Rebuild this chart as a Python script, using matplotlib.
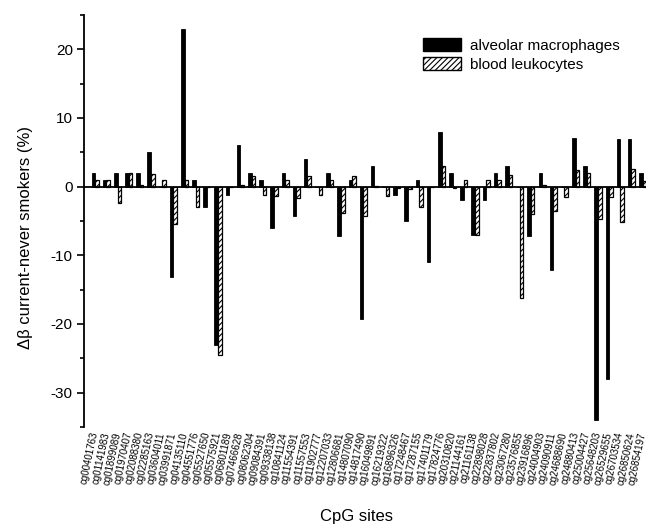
import matplotlib
matplotlib.use("Agg")
import matplotlib.pyplot as plt
import matplotlib.transforms as mtransforms
import numpy as np
from matplotlib.patches import Patch

plt.rcParams['font.family'] = ['Liberation Sans', 'DejaVu Sans']
plt.rcParams['hatch.linewidth'] = 0.8
plt.rcParams['axes.unicode_minus'] = False

sites = ["cg00401763", "cg01141983", "cg01899089", "cg01970407", "cg02088380",
         "cg02285163", "cg03604011", "cg03991871", "cg04135110", "cg04551776",
         "cg05527650", "cg05575921", "cg06801189", "cg07466628", "cg08062304",
         "cg09084391", "cg09338138", "cg10841124", "cg11554391", "cg11557553",
         "cg11902777", "cg12207033", "cg12806681", "cg14807090", "cg14817490",
         "cg16049891", "cg16219322", "cg16896326", "cg17248467", "cg17287155",
         "cg17401179", "cg17824776", "cg20310820", "cg21144161", "cg21161138",
         "cg22898028", "cg22837802", "cg23067280", "cg23576855", "cg23916896",
         "cg24004903", "cg24090911", "cg24688690", "cg24880413", "cg25004427",
         "cg25648203", "cg26529655", "cg26703534", "cg26850624", "cg26854197"]

alveolar = [2, 1, 2, 2, 2, 5, 0, -13.2, 23, 1,
            -3, -23, -1.2, 6, 2, 1, -6, 2, -4.2, 4,
            0, 2, -7.2, 1, -19.2, 3, 0, -1.2, -5, 1,
            -11, 8, 2, -2, -7, -2, 2, 3, 0, -7.2,
            2, -12.2, 0, 7.1, 3, -34, -28, 7, 7, 2]

blood = [1, 1, -2.4, 2, 0.2, 1.8, 1, -5.5, 1, -3,
         0, -24.5, 0, 0.3, 1.6, -1.2, -1.3, 1, -1.7, 1.6,
         -1.2, 1, -3.8, 1.6, -4.2, 0.1, -1.4, -0.2, -0.3, -3,
         -0.1, 3, -0.2, 1, -7, 1, 1, 1.7, -16.2, -4,
         0.3, -3.5, -1.5, 2.4, 2, -4.7, -1.5, -5.2, 2.6, 0.8]

fig = plt.figure(figsize=(6.46, 5.28), dpi=100)
ax = fig.add_axes([0.130, 0.1913, 0.870, 0.7803])

x = np.arange(len(sites))
w = 0.32
ax.bar(x - w / 2, alveolar, width=w, color='black', edgecolor='black', linewidth=0.6,
       label='alveolar macrophages')
ax.bar(x + w / 2, blood, width=w, color='white', edgecolor='black', linewidth=0.9,
       hatch='//////', label='blood leukocytes')

ax.axhline(0, color='black', linewidth=1.3, zorder=3)

ax.set_xlim(-1.0, len(sites) - 0.7)
ax.set_ylim(-35, 25)
ax.set_yticks([20, 10, 0, -10, -20, -30])
ax.set_yticks([25, 15, 5, -5, -15, -25, -35], minor=True)
ax.tick_params(axis='y', which='major', length=5, width=1.2, labelsize=11, pad=3)
ax.tick_params(axis='y', which='minor', length=3, width=1.2)

ax.set_xticks(x)
ax.set_xticklabels(sites, rotation=78, ha='right', va='top', rotation_mode='anchor',
                   fontsize=7.0)
ax.tick_params(axis='x', length=0, pad=3)
shift = mtransforms.ScaledTranslation(-5 / 100, 0, fig.dpi_scale_trans)
for lab in ax.get_xticklabels():
    lab.set_transform(lab.get_transform() + shift)

for s in ['top', 'right', 'bottom']:
    ax.spines[s].set_visible(False)
ax.spines['left'].set_linewidth(1.3)

ax.set_ylabel('Δβ current-never smokers (%)', fontsize=12)
ax.yaxis.set_label_coords(-0.090, 0.46)

fig.text(356 / 646, 1 - 517 / 528, 'CpG sites', fontsize=12, ha='center', va='center')

handles = [Patch(facecolor='black', edgecolor='black'),
           Patch(facecolor='white', edgecolor='black', hatch='//////')]
ax.legend(handles, ['alveolar macrophages', 'blood leukocytes'],
          loc='upper left', bbox_to_anchor=(423 / 646, 1 - 38 / 528),
          bbox_transform=fig.transFigure, frameon=False, fontsize=11,
          handlelength=2.5, handleheight=0.95, handletextpad=0.6,
          labelspacing=0.25, borderpad=0, borderaxespad=0)

fig.savefig('out.png', dpi=100)
